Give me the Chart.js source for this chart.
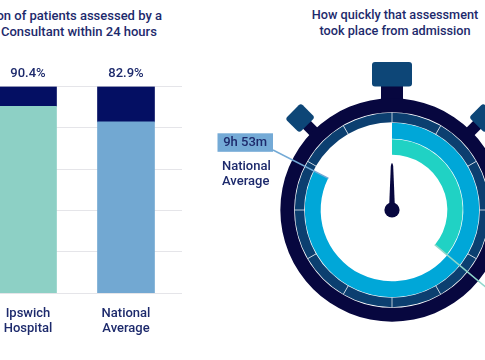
<!DOCTYPE html>
<html>
<head>
<meta charset="utf-8">
<script src="https://cdn.jsdelivr.net/npm/chart.js@4"></script>
<style>
  html, body { margin: 0; padding: 0; width: 485px; height: 360px; overflow: hidden; background: #fff; }
  body { position: relative; font-family: Roboto, sans-serif; color: #1d2a6c; }
  .t { position: absolute; white-space: nowrap; font-size: 13px; font-weight: 500; line-height: 16px; }
  #barChart { position: absolute; left: 0; top: 0; }
  #watch { position: absolute; left: 200px; top: 40px; }
</style>
</head>
<body>
<div class="t" style="right:323px; top:8px">Proportion of patients assessed by a</div>
<div class="t" style="left:1px; top:24px">Consultant within 24 hours</div>
<div class="t" style="left:295px; width:200px; top:7px; text-align:center; font-size:12.7px">How quickly that assessment<br>took place from admission</div>
<canvas id="barChart" width="200" height="360"></canvas>
<canvas id="watch" width="384" height="340"></canvas>
<script>
// ---- data ----
const categories = [["Ipswich", "Hospital"], ["National", "Average"]];
const assessedPct = [90.4, 82.9];
const notAssessedPct = [9.6, 17.1];
const yMax = 100;
const yStep = 20;

const timeLabels = ["Ipswich Hospital", "National Average"];
const timeMinutes = [258, 593];   // time from admission to assessment
const dialMinutes = 720;          // 12 hour dial
const dialHours = 12;

const textColor = "#1d2a6c";
const navy = "#040f63";
const barColors = ["#8dd0c5", "#72a8d2"];
const fontFamily = "Roboto, sans-serif";
const font = { family: fontFamily, size: 13, weight: "500" };

// percent labels above the stacks
const pctLabels = {
  id: "pctLabels",
  afterDatasetsDraw(chart) {
    const ctx = chart.ctx;
    const top = chart.getDatasetMeta(1);
    ctx.save();
    ctx.fillStyle = textColor;
    ctx.font = "500 13px " + fontFamily;
    ctx.textAlign = "center";
    ctx.textBaseline = "middle";
    top.data.forEach((bar, i) => {
      ctx.fillText(assessedPct[i] + "%", bar.x, bar.y - 13);
    });
    ctx.restore();
  }
};

new Chart(document.getElementById("barChart"), {
  type: "bar",
  data: {
    datasets: [
      {
        label: "Assessed within 24 hours",
        data: assessedPct.map((v, i) => ({ x: i, y: v })),
        backgroundColor: barColors,
        barThickness: 57
      },
      {
        label: "Not assessed within 24 hours",
        data: notAssessedPct.map((v, i) => ({ x: i, y: v })),
        backgroundColor: navy,
        barThickness: 57
      }
    ]
  },
  options: {
    responsive: false,
    animation: false,
    events: [],
    layout: { padding: { top: 86.5, bottom: 11, left: 0, right: 18 } },
    plugins: { legend: { display: false }, tooltip: { enabled: false } },
    scales: {
      x: {
        type: "linear",
        stacked: true,
        offset: false,
        bounds: "data",
        min: -0.2857,
        max: 1.5714,
        grid: { display: false, drawTicks: false, offset: false },
        border: { display: false },
        afterBuildTicks: axis => { axis.ticks = categories.map((c, i) => ({ value: i })); },
        afterFit: axis => { axis.paddingLeft = 0; axis.paddingRight = 0; },
        ticks: {
          callback: v => categories[v],
          color: textColor,
          font: { ...font, lineHeight: 1.15 },
          padding: 13,
          maxRotation: 0,
          autoSkip: false
        }
      },
      y: {
        stacked: true,
        min: 0,
        max: yMax,
        afterFit: axis => { axis.width = 0; },
        ticks: { display: false, stepSize: yStep },
        grid: { color: "#e5e5e9", drawTicks: false },
        border: { display: false }
      }
    }
  },
  plugins: [pctLabels]
});

// ---- stopwatch ----
const ringNavy = "#07073f";
const ringBlue = "#0c3f70";
const crownBlue = "#0d4677";
const natBlue = "#00a7d8";
const ipsTeal = "#20d2c4";

function fmtTime(m) {
  return Math.floor(m / 60) + "h " + (m % 60) + "m";
}

function roundRect(ctx, x, y, w, h, r) {
  ctx.beginPath();
  ctx.roundRect(x, y, w, h, r);
  ctx.fill();
}

const watchParts = {
  id: "watchParts",
  beforeDatasetsDraw(chart) {
    const ctx = chart.ctx;
    const a = chart.getDatasetMeta(0).data[0];
    const cx = a.x, cy = a.y;
    ctx.save();
    // crown and stem
    ctx.fillStyle = ringNavy;
    ctx.fillRect(cx - 11, cy - 126, 22, 24);
    ctx.fillStyle = crownBlue;
    roundRect(ctx, cx - 20, cy - 148, 40, 24.5, 3);
    // side buttons
    [-1, 1].forEach(s => {
      ctx.save();
      ctx.translate(cx, cy);
      ctx.rotate(s * Math.PI / 4);
      ctx.fillStyle = ringNavy;
      ctx.fillRect(-5.5, -122, 11, 14);
      ctx.fillStyle = crownBlue;
      roundRect(ctx, -11, -140, 22, 20, 3);
      ctx.restore();
    });
    ctx.restore();
  },
  afterDatasetsDraw(chart) {
    const ctx = chart.ctx;
    const a = chart.getDatasetMeta(0).data[0];
    const cx = a.x, cy = a.y;
    ctx.save();
    // hour ticks
    ctx.strokeStyle = "rgba(255,255,255,0.7)";
    ctx.lineWidth = 1;
    chart.getDatasetMeta(1).data.forEach(el => {
      const c = Math.cos(el.startAngle), s = Math.sin(el.startAngle);
      ctx.beginPath();
      ctx.moveTo(cx + c * el.innerRadius, cy + s * el.innerRadius);
      ctx.lineTo(cx + c * el.outerRadius, cy + s * el.outerRadius);
      ctx.stroke();
    });
    // needle
    ctx.fillStyle = ringNavy;
    ctx.beginPath();
    ctx.moveTo(cx - 3, cy);
    ctx.lineTo(cx - 1.2, cy - 44);
    ctx.quadraticCurveTo(cx, cy - 50, cx + 1.2, cy - 44);
    ctx.lineTo(cx + 3, cy);
    ctx.closePath();
    ctx.fill();
    ctx.beginPath();
    ctx.arc(cx, cy, 7.6, 0, Math.PI * 2);
    ctx.fill();

    // leader lines from the arc ends
    const endPoint = el => [cx + Math.cos(el.endAngle) * el.innerRadius, cy + Math.sin(el.endAngle) * el.innerRadius];
    const nat = endPoint(chart.getDatasetMeta(2).data[0]);
    const ips = endPoint(chart.getDatasetMeta(3).data[0]);
    ctx.lineWidth = 1.5;
    ctx.strokeStyle = "#74aad6";
    ctx.beginPath();
    ctx.moveTo(cx - 119, cy - 60);
    ctx.lineTo(nat[0], nat[1]);
    ctx.stroke();
    ctx.strokeStyle = "#8fd6ca";
    ctx.beginPath();
    ctx.moveTo(ips[0], ips[1]);
    ctx.lineTo(cx + 150, cy + 124);
    ctx.stroke();

    // national label
    ctx.fillStyle = "#74aad6";
    ctx.fillRect(cx - 174.5, cy - 76.7, 55.5, 18.5);
    ctx.fillStyle = textColor;
    ctx.font = "500 13px " + fontFamily;
    ctx.textAlign = "center";
    ctx.textBaseline = "middle";
    ctx.fillText(fmtTime(timeMinutes[1]), cx - 146.8, cy - 67.3);
    ctx.textAlign = "left";
    const words = timeLabels[1].split(" ");
    ctx.fillText(words[0], cx - 170, cy - 43.3);
    ctx.fillText(words[1], cx - 170, cy - 28);
    ctx.restore();
  }
};

new Chart(document.getElementById("watch"), {
  type: "doughnut",
  data: {
    labels: ["time", "rest"],
    datasets: [
      { data: [dialMinutes], backgroundColor: [ringNavy], weight: 14.5 },
      { data: new Array(dialHours).fill(dialMinutes / dialHours), backgroundColor: ringBlue, weight: 10 },
      { data: [timeMinutes[1], dialMinutes - timeMinutes[1]], backgroundColor: [natBlue, "rgba(0,0,0,0)"], weight: 16.5 },
      { data: [timeMinutes[0], dialMinutes - timeMinutes[0]], backgroundColor: [ipsTeal, "rgba(0,0,0,0)"], weight: 16 }
    ]
  },
  options: {
    responsive: false,
    animation: false,
    events: [],
    cutout: 55,
    layout: { padding: { left: 80, right: 80, top: 58, bottom: 58 } },
    elements: { arc: { borderWidth: 0, hoverBorderWidth: 0, borderAlign: "inner" } },
    plugins: { legend: { display: false }, tooltip: { enabled: false } }
  },
  plugins: [watchParts]
});
</script>
</body>
</html>
